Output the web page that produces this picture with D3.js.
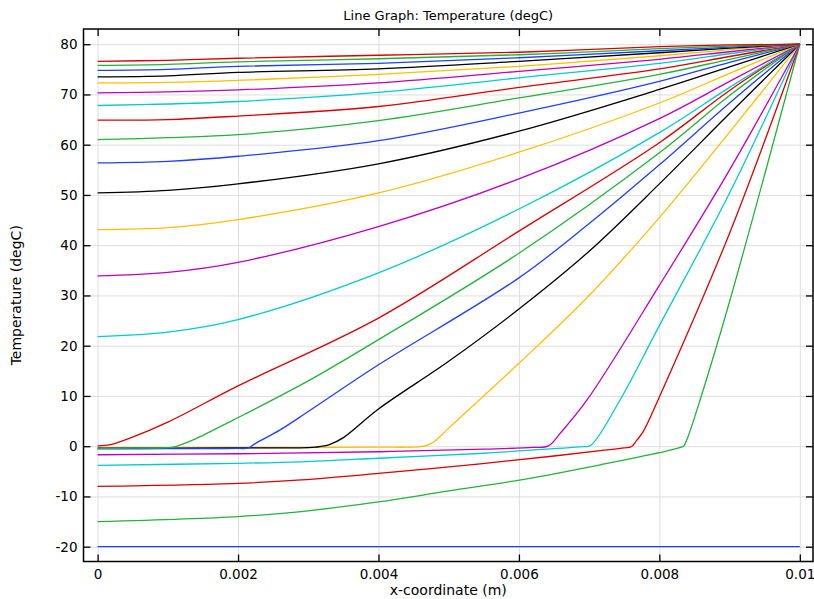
<!DOCTYPE html>
<html>
<head>
<meta charset="utf-8">
<script src="https://cdn.jsdelivr.net/npm/d3@7"></script>
<style>
  body { margin: 0; background: #fff; }
  svg { display: block; font-family: "DejaVu Sans", sans-serif; }
</style>
</head>
<body>
<svg id="chart" width="814" height="599"></svg>
<script>
// x positions shared by the smooth (fully thawed) curves
const xGrid = [0, 0.001, 0.002, 0.004, 0.006, 0.008, 0.009, 0.01];

// temperature profiles, one array per output time (degC)
const t01x = [0, 0.01];
const t01 = [-20, -20];
const t02x = [0, 0.002, 0.0029, 0.004, 0.005, 0.00607, 0.00716, 0.008, 0.0083, 0.00835, 0.0084, 0.00858, 0.009, 0.01];
const t02 = [-15, -14, -13, -11.1, -8.9, -6.6, -3.7, -1.3, -0.25, 0.1, 1.6, 9.2, 28.8, 80];
const t03x = [0, 0.002, 0.0029, 0.004, 0.00545, 0.0065, 0.00716, 0.0075, 0.0076, 0.00768, 0.00777, 0.008, 0.009, 0.01];
const t03 = [-8.0, -7.4, -6.7, -5.4, -3.5, -1.95, -0.9, -0.35, -0.1, 1.2, 2.9, 9.8, 42.4, 80];
const t04x = [0, 0.002, 0.0029, 0.004, 0.0055, 0.0065, 0.0069, 0.00702, 0.00744, 0.008, 0.009, 0.01];
const t04 = [-3.8, -3.4, -3.1, -2.4, -1.4, -0.5, -0.1, 0.15, 9.2, 24.0, 50.4, 80];
const t05x = [0, 0.002, 0.004, 0.0055, 0.0062, 0.00642, 0.00659, 0.00697, 0.008, 0.009, 0.01];
const t05 = [-1.7, -1.5, -1.1, -0.6, -0.25, 0.06, 2.6, 9.2, 32.0, 55.0, 80];
const t06x = [0, 0.002, 0.004, 0.0046, 0.0047, 0.0048, 0.005, 0.006, 0.007, 0.008, 0.009, 0.01];
const t06 = [-0.35, -0.3, -0.2, -0.1, 0.2, 1.0, 3.6, 16.5, 30.0, 45.5, 62.5, 80];
const t07x = [0, 0.002, 0.003, 0.0031, 0.0033, 0.0035, 0.004, 0.005, 0.006, 0.007, 0.008, 0.009, 0.01];
const t07 = [-0.4, -0.35, -0.3, -0.2, 0.3, 1.7, 7.4, 16.9, 27.3, 38.8, 52.2, 66.2, 80];
const t08x = [0, 0.001, 0.002, 0.00215, 0.00224, 0.0026, 0.003, 0.004, 0.006, 0.007, 0.008, 0.009, 0.01];
const t08 = [-0.55, -0.5, -0.45, -0.35, 0.46, 3.25, 6.9, 16.2, 33.5, 44.3, 56.0, 68.3, 80];
const t09x = [0, 0.0005, 0.00105, 0.00118, 0.00136, 0.00193, 0.003, 0.004, 0.006, 0.008, 0.009, 0.01];
const t09 = [-0.45, -0.4, -0.25, 0.25, 1.25, 5.2, 13.0, 21.2, 38.4, 58.4, 69.8, 80];
const t10x = [0, 0.0001, 0.0002, 0.00046, 0.001, 0.002, 0.004, 0.006, 0.008, 0.009, 0.01];
const t10 = [0.05, 0.15, 0.35, 1.6, 4.8, 12.0, 25.5, 42.8, 60.4, 70.8, 80];
const t11 = [21.8, 22.7, 25.2, 34.5, 47.2, 62.4, 71.4, 80];
const t12 = [33.9, 34.6, 36.6, 43.7, 53.2, 65.2, 72.6, 80];
const t13 = [43.1, 43.5, 45.1, 50.4, 58.5, 68.3, 74.2, 80];
const t14 = [50.4, 50.9, 52.2, 56.2, 62.7, 71.0, 75.5, 80];
const t15 = [56.4, 56.7, 57.7, 60.8, 66.3, 72.6, 76.4, 80];
const t16 = [61.0, 61.4, 62.0, 64.8, 69.3, 74.0, 77.0, 80];
const t17 = [64.9, 65.0, 65.7, 67.6, 71.4, 75.1, 77.55, 80];
const t18 = [67.8, 68.1, 68.6, 70.4, 73.3, 76.2, 78.1, 80];
const t19 = [70.3, 70.5, 70.9, 72.3, 74.6, 77.0, 78.5, 80];
const t20 = [72.3, 72.4, 72.8, 74.0, 75.6, 77.7, 78.9, 80];
const t21 = [73.5, 73.7, 74.4, 75.1, 76.6, 78.3, 79.2, 80];
const t22 = [74.8, 75.0, 75.6, 76.2, 77.3, 78.7, 79.4, 80];
const t23 = [75.8, 76.0, 76.5, 77.1, 77.9, 79.1, 79.6, 80];
const t24 = [76.6, 76.8, 77.2, 77.8, 78.4, 79.5, 79.85, 80];

const xTicks = [0, 0.002, 0.004, 0.006, 0.008, 0.01];
const yTicks = [-20, -10, 0, 10, 20, 30, 40, 50, 60, 70, 80];
const colorCycle = ["#1f3fff", "#22b33a", "#dd0000", "#00cccc", "#bf00bf", "#ffbf00", "#000000"];

const profiles = [
  [t01x, t01], [t02x, t02], [t03x, t03], [t04x, t04], [t05x, t05],
  [t06x, t06], [t07x, t07], [t08x, t08], [t09x, t09], [t10x, t10],
  [xGrid, t11], [xGrid, t12], [xGrid, t13], [xGrid, t14], [xGrid, t15],
  [xGrid, t16], [xGrid, t17], [xGrid, t18], [xGrid, t19], [xGrid, t20],
  [xGrid, t21], [xGrid, t22], [xGrid, t23], [xGrid, t24]
];

const svg = d3.select("#chart");
const frame = { left: 83.5, top: 29, right: 813, bottom: 561.5 };

const x = d3.scaleLinear().domain([0, 0.01]).range([97.6, 799.8]);
const y = d3.scaleLinear().domain([-20, 80]).range([546.7, 44.2]);

// grid
svg.append("g")
  .attr("transform", `translate(0,${frame.bottom})`)
  .call(d3.axisBottom(x).tickValues(xTicks).tickSize(-(frame.bottom - frame.top)).tickFormat(""))
  .call(g => g.select(".domain").remove())
  .call(g => g.selectAll("line").attr("stroke", "#dedede"));
svg.append("g")
  .attr("transform", `translate(${frame.left},0)`)
  .call(d3.axisLeft(y).tickValues(yTicks).tickSize(-(frame.right - frame.left)).tickFormat(""))
  .call(g => g.select(".domain").remove())
  .call(g => g.selectAll("line").attr("stroke", "#dedede"));

// lines
const line = d3.line()
  .x(d => x(d[0]))
  .y(d => y(d[1]))
  .curve(d3.curveCatmullRom.alpha(0.5));

profiles.forEach(([xs, ts], i) => {
  svg.append("path")
    .datum(xs.map((v, j) => [v, ts[j]]))
    .attr("fill", "none")
    .attr("stroke", colorCycle[i % colorCycle.length])
    .attr("stroke-width", 1.3)
    .attr("d", line);
});

// axes, ticks pointing inward
const fmtX = d => d === 0 ? "0" : String(+d.toFixed(3));
svg.append("g")
  .attr("transform", `translate(0,${frame.bottom})`)
  .call(d3.axisBottom(x).tickValues(xTicks).tickSize(-7).tickPadding(8).tickFormat(fmtX))
  .call(g => g.select(".domain").remove());
svg.append("g")
  .attr("transform", `translate(0,${frame.top})`)
  .call(d3.axisTop(x).tickValues(xTicks).tickSize(-7).tickFormat(""))
  .call(g => g.select(".domain").remove());
svg.append("g")
  .attr("transform", `translate(${frame.left},0)`)
  .call(d3.axisLeft(y).tickValues(yTicks).tickSize(-7).tickPadding(6).tickFormat(d => String(d)))
  .call(g => g.select(".domain").remove());
svg.append("g")
  .attr("transform", `translate(${frame.right},0)`)
  .call(d3.axisRight(y).tickValues(yTicks).tickSize(-7).tickFormat(""))
  .call(g => g.select(".domain").remove());

svg.selectAll(".tick text")
  .attr("font-family", "DejaVu Sans, sans-serif")
  .attr("font-size", "13.5px")
  .attr("fill", "#000");
svg.selectAll(".tick line:not([stroke='#dedede'])")
  .attr("stroke-width", 1.3);

svg.append("rect")
  .attr("x", frame.left)
  .attr("y", frame.top)
  .attr("width", frame.right - frame.left)
  .attr("height", frame.bottom - frame.top)
  .attr("fill", "none")
  .attr("stroke", "#000")
  .attr("stroke-width", 1.5);

// titles
svg.append("text")
  .attr("x", (frame.left + frame.right) / 2)
  .attr("y", 20)
  .attr("text-anchor", "middle")
  .attr("font-size", "13px")
  .text("Line Graph: Temperature (degC)");

svg.append("text")
  .attr("x", (frame.left + frame.right) / 2)
  .attr("y", 595)
  .attr("text-anchor", "middle")
  .attr("font-size", "14px")
  .text("x-coordinate (m)");

svg.append("text")
  .attr("transform", `translate(21,${(frame.top + frame.bottom) / 2}) rotate(-90)`)
  .attr("text-anchor", "middle")
  .attr("font-size", "14px")
  .text("Temperature (degC)");
</script>
</body>
</html>
